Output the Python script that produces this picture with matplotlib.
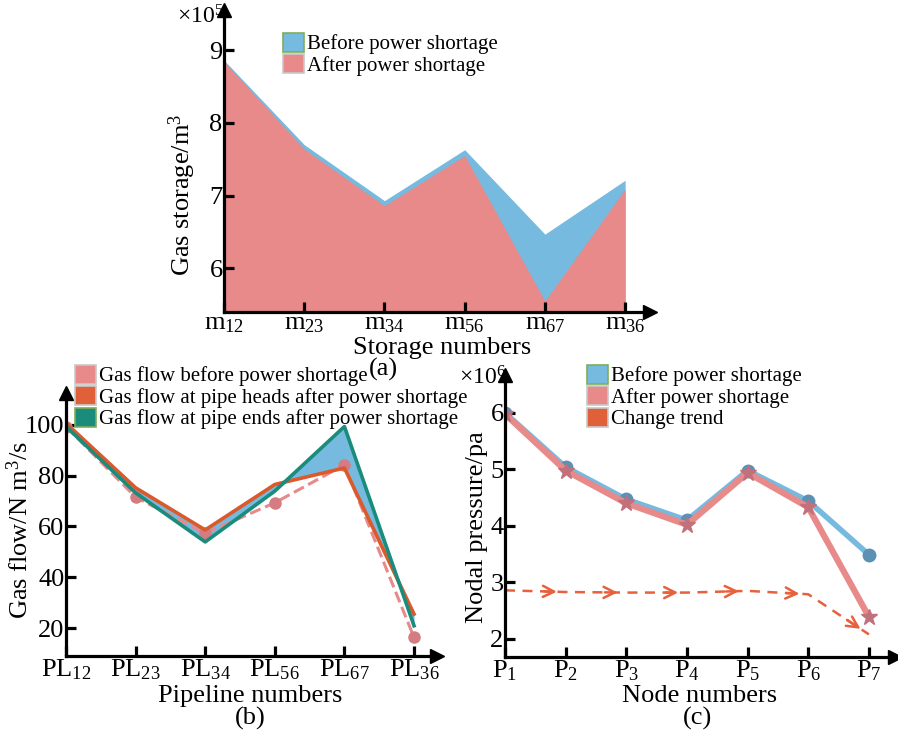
import numpy as np
import matplotlib
matplotlib.use("Agg")
import matplotlib.pyplot as plt
from matplotlib.patches import Patch

plt.rcParams['font.family'] = ['Liberation Serif', 'DejaVu Serif']
plt.rcParams['mathtext.fontset'] = 'custom'
plt.rcParams['mathtext.rm'] = 'Liberation Serif'
plt.rcParams['mathtext.it'] = 'Liberation Serif:italic'

# (a) gas storage, x1e5 m3
storage = [r'm$_{12}$', r'm$_{23}$', r'm$_{34}$', r'm$_{56}$', r'm$_{67}$', r'm$_{36}$']
st_before = [8.86, 7.70, 6.93, 7.63, 6.47, 7.21]
st_after = [8.84, 7.64, 6.86, 7.55, 5.55, 7.09]

# (b) gas flow, N m3/s
pipes = [r'PL$_{12}$', r'PL$_{23}$', r'PL$_{34}$', r'PL$_{56}$', r'PL$_{67}$', r'PL$_{36}$']
fl_before = [99.3, 71.5, 57.3, 69.3, 84.2, 16.3]
fl_heads = [100.6, 75.2, 58.6, 76.5, 83.0, 25.5]
fl_ends = [99.3, 73.2, 53.9, 73.9, 99.3, 20.9]

# (c) nodal pressure, x1e6 pa
nodes = [r'P$_1$', r'P$_2$', r'P$_3$', r'P$_4$', r'P$_5$', r'P$_6$', r'P$_7$']
pr_before = [6.00, 5.04, 4.47, 4.10, 4.98, 4.44, 3.49]
pr_after = [5.98, 4.98, 4.40, 4.02, 4.94, 4.33, 2.39]
trend = [2.86, 2.83, 2.82, 2.82, 2.85, 2.79, 2.08]

W, H = 898, 734
fig = plt.figure(figsize=(W/100, H/100), dpi=100)

def box(l, r, b, t):
    return [l/W, 1-b/H, (r-l)/W, (b-t)/H]

def style(ax):
    for s in ['top', 'right']:
        ax.spines[s].set_visible(False)
    for s in ['left', 'bottom']:
        ax.spines[s].set_linewidth(2.3)
    ax.plot(1, 0, '>k', ms=10, transform=ax.transAxes, clip_on=False)
    ax.plot(0, 1, '^k', ms=10, transform=ax.transAxes, clip_on=False)
    ax.tick_params(direction='in', width=2.3, length=7, labelsize=19)
    ax.tick_params(axis='x', pad=1)
    ax.tick_params(axis='y', pad=1)

blue = '#76BADF'
pink = '#E8898A'
leg_kw = dict(loc='upper left', frameon=False, fontsize=15, handlelength=1.0, handleheight=1.0,
              handletextpad=0.15, labelspacing=0.0, borderpad=0, borderaxespad=0)

# ---- (a)
ax1 = fig.add_axes(box(224, 650, 312, 10))
x1 = np.arange(len(storage))
ax1.fill_between(x1, st_before, 5.4, color=blue, lw=0)
ax1.fill_between(x1, st_after, 5.4, color=pink, lw=0)
ax1.set_xlim(0, 5.31)
ax1.set_ylim(5.4, 9.55)
ax1.set_xticks(x1)
ax1.set_xticklabels(storage)
ax1.set_yticks([6, 7, 8, 9])
style(ax1)
fig.text(200/W, 1-17/H, r'$\times10^5$', fontsize=17, ha='center', va='center')
fig.text(182/W, 1-195/H, r'Gas storage/m$^3$', fontsize=19, rotation=90, ha='center', va='center')
fig.text(442/W, 1-348/H, 'Storage numbers', fontsize=19, ha='center', va='center')
fig.text(383/W, 1-369/H, '(a)', fontsize=19, ha='center', va='center')
fig.legend(handles=[Patch(facecolor=blue, edgecolor='#7FAE5A', lw=1.2, label='Before power shortage'),
                    Patch(facecolor=pink, edgecolor='#C8C8C8', lw=1.2, label='After power shortage')],
           bbox_to_anchor=(283/W, 1-33/H), **leg_kw)

# ---- (b)
ax2 = fig.add_axes(box(66, 437, 656, 393))
x2 = np.arange(len(pipes))
ax2.fill_between(x2, fl_heads, fl_ends, color=blue, lw=0)
ax2.plot(x2, fl_before, '--', color=pink, lw=2.2, marker='o', ms=8, mfc='#D47C82', mec='#D47C82')
ax2.plot(x2, fl_heads, '-', color='#DA5A2C', lw=2.6)
ax2.plot(x2, fl_ends, '-', color='#1B8C7C', lw=2.6)
ax2.set_xlim(0, 5.33)
ax2.set_ylim(9, 112.5)
ax2.set_xticks(x2)
ax2.set_xticklabels(pipes)
ax2.set_yticks([20, 40, 60, 80, 100])
style(ax2)
fig.text(20/W, 1-530/H, r'Gas flow/N m$^3$/s', fontsize=19, rotation=90, ha='center', va='center')
fig.text(250/W, 1-696/H, 'Pipeline numbers', fontsize=19, ha='center', va='center')
fig.text(250/W, 1-718/H, '(b)', fontsize=19, ha='center', va='center')
fig.legend(handles=[Patch(facecolor=pink, edgecolor='#C8C8C8', lw=1.2, label='Gas flow before power shortage'),
                    Patch(facecolor='#E0603A', edgecolor='#C8C8C8', lw=1.2, label='Gas flow at pipe heads after power shortage'),
                    Patch(facecolor='#1B8C7C', edgecolor='#7FAE5A', lw=1.2, label='Gas flow at pipe ends after power shortage')],
           bbox_to_anchor=(75/W, 1-365/H), **leg_kw)

# ---- (c)
ax3 = fig.add_axes(box(505, 895, 657, 375))
x3 = np.arange(len(nodes))
ax3.plot(x3, pr_before, '-', color=blue, lw=4, marker='o', ms=9, mfc='#5C90B5', mec='#5C90B5')
ax3.plot(x3, pr_after, '-', color=pink, lw=4.5, marker='*', ms=12, mfc='#C27079', mec='#C27079')
ax3.plot(x3, trend, '--', color='#E8603C', lw=1.8, dashes=(4, 3))
for i in range(1, len(nodes)):
    xa = x3[i-1] + 0.9*(x3[i]-x3[i-1])
    ya = trend[i-1] + 0.9*(trend[i]-trend[i-1])
    xb = x3[i-1] + 0.6*(x3[i]-x3[i-1])
    yb = trend[i-1] + 0.6*(trend[i]-trend[i-1])
    ax3.annotate('', xy=(xa, ya), xytext=(xb, yb),
                 arrowprops=dict(arrowstyle='->', color='#E8603C', lw=1.8, mutation_scale=20))
ax3.set_xlim(0, 6.43)
ax3.set_ylim(1.68, 6.67)
ax3.set_xticks(x3)
ax3.set_xticklabels(nodes)
ax3.set_yticks([2, 3, 4, 5, 6])
style(ax3)
fig.text(482/W, 1-378/H, r'$\times10^6$', fontsize=17, ha='center', va='center')
fig.text(477/W, 1-527/H, 'Nodal pressure/pa', fontsize=19, rotation=90, ha='center', va='center')
fig.text(700/W, 1-696/H, 'Node numbers', fontsize=19, ha='center', va='center')
fig.text(698/W, 1-718/H, '(c)', fontsize=19, ha='center', va='center')
fig.legend(handles=[Patch(facecolor=blue, edgecolor='#7FAE5A', lw=1.2, label='Before power shortage'),
                    Patch(facecolor=pink, edgecolor='#C8C8C8', lw=1.2, label='After power shortage'),
                    Patch(facecolor='#E0603A', edgecolor='#C8C8C8', lw=1.2, label='Change trend')],
           bbox_to_anchor=(587/W, 1-365/H), **leg_kw)

fig.savefig('out.png', dpi=100)
